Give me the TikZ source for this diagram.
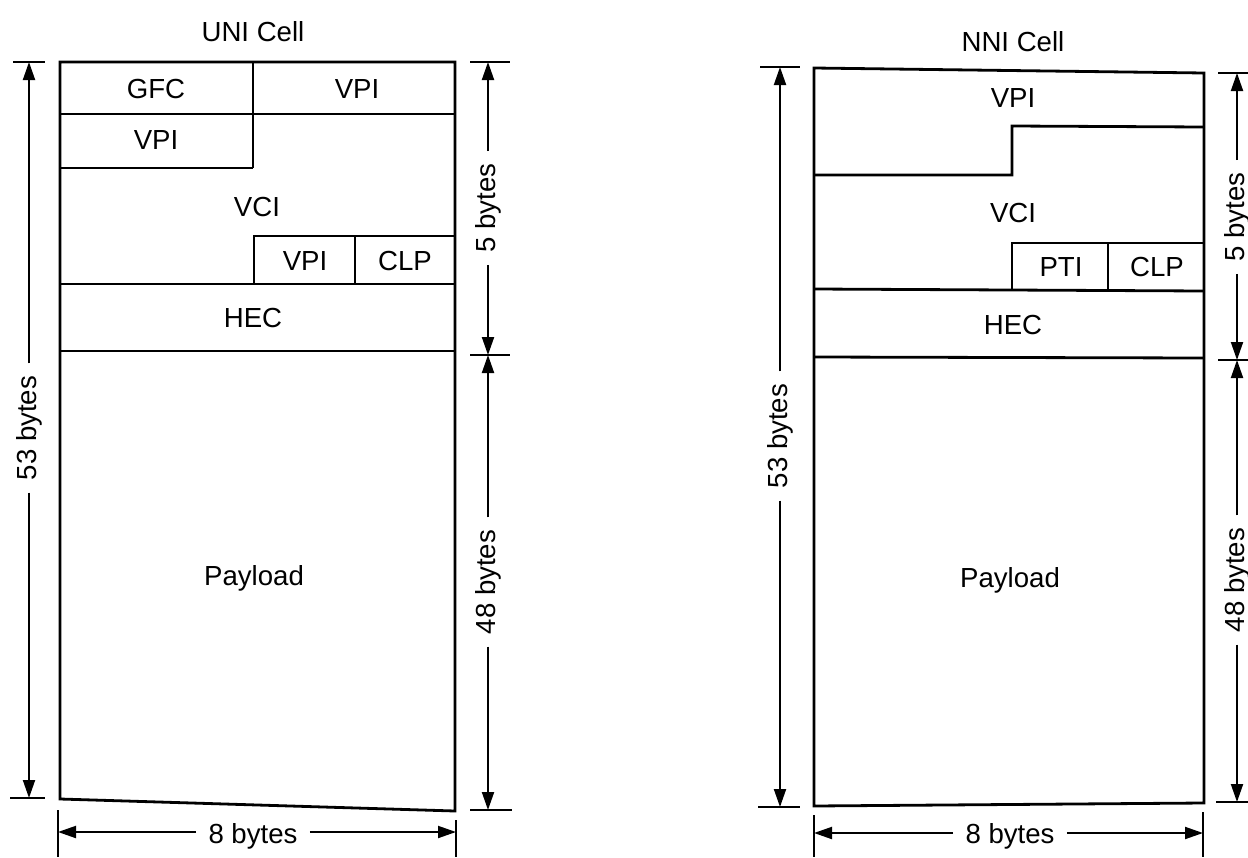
\documentclass[tikz,border=0pt]{standalone}
\usepackage{fontspec}
\setmainfont{Liberation Sans}
\usetikzlibrary{arrows.meta}
\begin{document}
\begin{tikzpicture}[x=0.5pt,y=-0.5pt,
  lbl/.style={font=\fontsize{13.8}{16}\selectfont, inner sep=0pt},
  dimlbl/.style={font=\fontsize{13.8}{16}\selectfont, inner xsep=6pt, inner ysep=1pt},
  boxline/.style={line width=1.4pt, line join=miter},
  dimline/.style={line width=1pt, -{Triangle[length=9pt,width=6pt]}},
  tickline/.style={line width=1pt}]
\useasboundingbox (0,0) rectangle (1248,857);

% ================= UNI cell =================
\node[lbl] (unititle) at (253,32) {UNI Cell};
\draw[boxline] (60,62) -- (455,62) -- (455,811) -- (60,799) -- cycle;
\draw[boxline] (60,114) -- (455,114);
\draw[boxline] (253,62) -- (253,168);
\draw[boxline] (60,168) -- (253,168);
\draw[boxline] (254,284) -- (254,236) -- (455,236);
\draw[boxline] (355,236) -- (355,284);
\draw[boxline] (60,284) -- (455,284);
\draw[boxline] (60,351) -- (455,351);
\node[lbl] (ugfc) at (156,89) {GFC};
\node[lbl] (uvpi1) at (357,89) {VPI};
\node[lbl] (uvpi2) at (156,140) {VPI};
\node[lbl] (uvci) at (257,207) {VCI};
\node[lbl] (uvpi3) at (305,261) {VPI};
\node[lbl] (uclp) at (405,261) {CLP};
\node[lbl] (uhec) at (253,318) {HEC};
\node[lbl] (upay) at (254,578) {Payload};

% UNI dimensions
\coordinate (u53t) at (29,62);
\coordinate (u53b) at (29,798);
\node[dimlbl, rotate=90] (u53) at (29,428) {53 bytes};
\draw[dimline] (u53) -- (u53t);
\draw[dimline] (u53) -- (u53b);
\draw[tickline] (13,62) -- (45,62);
\draw[tickline] (10,798) -- (45,798);

\coordinate (u5t) at (488,62);
\coordinate (u5b) at (488,355);
\coordinate (u48b) at (488,810);
\node[dimlbl, rotate=90] (u5) at (488,208) {5 bytes};
\node[dimlbl, rotate=90] (u48) at (488,582) {48 bytes};
\draw[dimline] (u5) -- (u5t);
\draw[dimline] (u5) -- (u5b);
\draw[dimline] (u48) -- (u5b);
\draw[dimline] (u48) -- (u48b);
\draw[tickline] (470,62) -- (510,62);
\draw[tickline] (470,355) -- (510,355);
\draw[tickline] (470,810) -- (512,810);

\coordinate (u8l) at (58,832);
\coordinate (u8r) at (456,832);
\node[dimlbl] (u8) at (253,836) {8 bytes};
\draw[dimline] (u8l -| u8.west) -- (u8l);
\draw[dimline] (u8r -| u8.east) -- (u8r);
\draw[tickline] (58,810) -- (58,857);
\draw[tickline] (456,820) -- (456,857);

% ================= NNI cell =================
\node[lbl] (nnititle) at (1013,42) {NNI Cell};
\draw[boxline] (814,68) -- (1204,73) -- (1204,803) -- (814,806) -- cycle;
\draw[boxline] (814,175) -- (1012,175) -- (1012,126) -- (1204,127);
\draw[boxline] (1012,290) -- (1012,243) -- (1204,243);
\draw[boxline] (1108,243) -- (1108,290);
\draw[boxline] (814,289) -- (1204,291);
\draw[boxline] (814,357) -- (1204,358);
\node[lbl] (nvpi) at (1013,98) {VPI};
\node[lbl] (nvci) at (1013,213) {VCI};
\node[lbl] (npti) at (1061,267) {PTI};
\node[lbl] (nclp) at (1157,267) {CLP};
\node[lbl] (nhec) at (1013,325) {HEC};
\node[lbl] (npay) at (1010,580) {Payload};

% NNI dimensions
\coordinate (n53t) at (780,67);
\coordinate (n53b) at (780,807);
\node[dimlbl, rotate=90] (n53) at (780,436) {53 bytes};
\draw[dimline] (n53) -- (n53t);
\draw[dimline] (n53) -- (n53b);
\draw[tickline] (760,67) -- (800,67);
\draw[tickline] (758,807) -- (800,807);

\coordinate (n5t) at (1237,73);
\coordinate (n5b) at (1237,360);
\coordinate (n48b) at (1237,802);
\node[dimlbl, rotate=90] (n5) at (1237,217) {5 bytes};
\node[dimlbl, rotate=90] (n48) at (1237,580) {48 bytes};
\draw[dimline] (n5) -- (n5t);
\draw[dimline] (n5) -- (n5b);
\draw[dimline] (n48) -- (n5b);
\draw[dimline] (n48) -- (n48b);
\draw[tickline] (1218,73) -- (1248,73);
\draw[tickline] (1218,360) -- (1248,360);
\draw[tickline] (1216,802) -- (1248,802);

\coordinate (n8l) at (814,833);
\coordinate (n8r) at (1203,833);
\node[dimlbl] (n8) at (1010,836) {8 bytes};
\draw[dimline] (n8l -| n8.west) -- (n8l);
\draw[dimline] (n8r -| n8.east) -- (n8r);
\draw[tickline] (814,815) -- (814,857);
\draw[tickline] (1203,812) -- (1203,857);
\end{tikzpicture}
\end{document}
